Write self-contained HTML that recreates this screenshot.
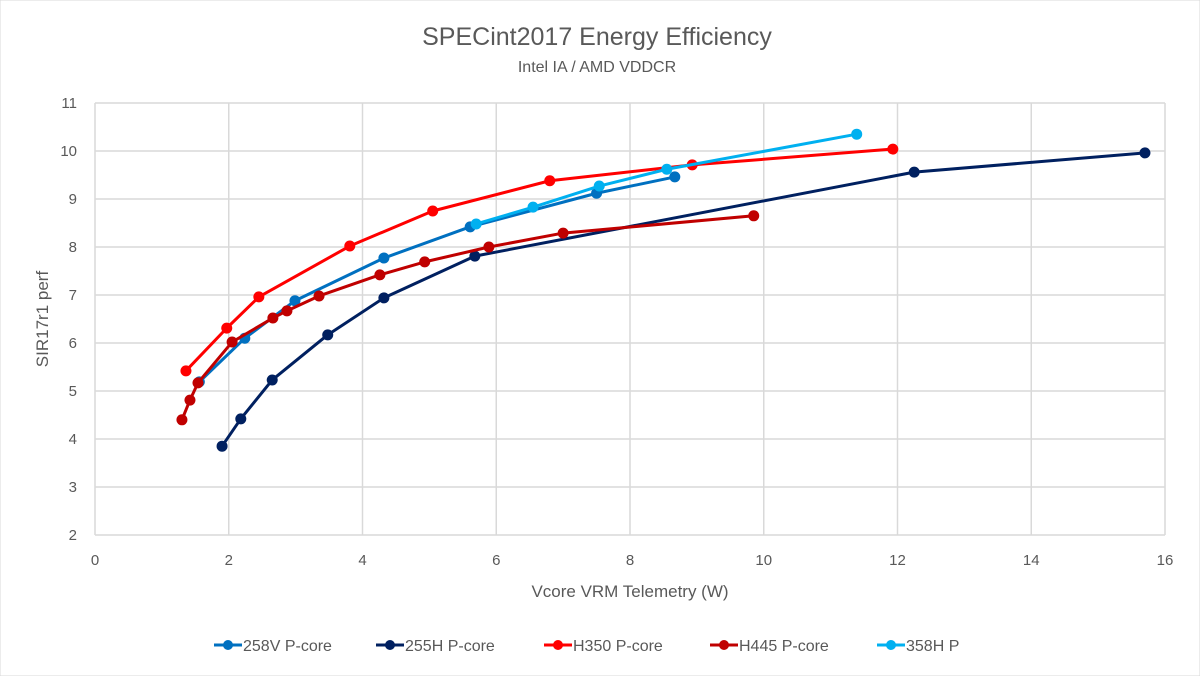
<!DOCTYPE html>
<html><head><meta charset="utf-8"><style>
body{margin:0;background:#fff}
svg{display:block;font-family:"Liberation Sans",sans-serif}
</style></head><body>
<svg id="chart" width="1200" height="676" viewBox="0 0 1200 676">
<rect x="0" y="0" width="1200" height="676" fill="#fff" stroke="#d9d9d9"/>
<text x="597" y="45" text-anchor="middle" font-size="25" fill="#595959">SPECint2017 Energy Efficiency</text>
<text x="597" y="72" text-anchor="middle" font-size="16" fill="#595959">Intel IA / AMD VDDCR</text>
<text transform="translate(48,319) rotate(-90)" text-anchor="middle" font-size="17" fill="#595959">SIR17r1 perf</text>
<text x="630" y="597" text-anchor="middle" font-size="17" fill="#595959">Vcore VRM Telemetry (W)</text>
<g id="grid"></g><g id="series"></g><g id="legend"></g>
</svg>
<script>
const xTicks=[0,2,4,6,8,10,12,14,16];
const yTicks=[2,3,4,5,6,7,8,9,10,11];
const seriesNames=["258V P-core","255H P-core","H350 P-core","H445 P-core","358H P"];
const seriesColors=["#0070C0","#002060","#FF0000","#C00000","#00B0F0"];
const s258vX=[1.56,2.24,2.99,4.32,5.61,7.5,8.67];
const s258vY=[5.19,6.10,6.88,7.77,8.42,9.12,9.46];
const s255hX=[1.90,2.18,2.65,3.48,4.32,5.68,12.25,15.70];
const s255hY=[3.85,4.42,5.23,6.17,6.94,7.81,9.56,9.96];
const h350X=[1.36,1.97,2.45,3.81,5.05,6.80,8.93,11.93];
const h350Y=[5.42,6.31,6.96,8.02,8.75,9.38,9.71,10.04];
const h445X=[1.30,1.42,1.54,2.05,2.66,2.87,3.35,4.26,4.93,5.89,7.0,9.85];
const h445Y=[4.40,4.81,5.17,6.02,6.52,6.67,6.98,7.42,7.69,8.0,8.29,8.65];
const s358hX=[5.70,6.55,7.54,8.55,11.39];
const s358hY=[8.48,8.83,9.27,9.62,10.35];
const NS="http://www.w3.org/2000/svg";
const X0=95,X1=1165,Y0=535,Y1=103;
const xs=v=>X0+(v-0)/(16-0)*(X1-X0);
const ys=v=>Y0-(v-2)/(11-2)*(Y0-Y1);
function mk(t,a,p){const e=document.createElementNS(NS,t);for(const k in a)e.setAttribute(k,a[k]);p.appendChild(e);return e;}
const grid=document.getElementById('grid');
xTicks.forEach(t=>{
 const l=mk('line',{x1:xs(t),x2:xs(t),y1:Y1,y2:Y0,stroke:'#d9d9d9','stroke-width':1.5},grid);
 
 
 const tx=mk('text',{x:xs(t),y:Y0+30,'text-anchor':'middle','font-size':15,fill:'#595959'},grid);
 tx.textContent=t;
 
 
});
yTicks.forEach(t=>{
 const l=mk('line',{x1:X0,x2:X1,y1:ys(t),y2:ys(t),stroke:'#d9d9d9','stroke-width':1.5},grid);
 
 
 const tx=mk('text',{x:X0-18,y:ys(t)+5,'text-anchor':'end','font-size':15,fill:'#595959'},grid);
 tx.textContent=t;
 
 
});
const data=[[s258vX,s258vY],[s255hX,s255hY],[h350X,h350Y],[h445X,h445Y],[s358hX,s358hY]];
const sg=document.getElementById('series');
data.forEach((d,i)=>{
 const g=mk('g',{},sg);
 
 
 const pts=d[0].map((x,j)=>xs(x)+','+ys(d[1][j])).join(' ');
 const pl=mk('polyline',{points:pts,fill:'none',stroke:seriesColors[i],'stroke-width':3,'stroke-linejoin':'round'},g);
 
 
 d[0].forEach((x,j)=>{
  const c=mk('circle',{cx:xs(x),cy:ys(d[1][j]),r:5.5,fill:seriesColors[i]},g);
  
  
 });
});
const lg=document.getElementById('legend');
const lx=[222,384,552,718,885];
seriesNames.forEach((n,i)=>{
 const g=mk('g',{},lg);
 
 
 mk('line',{x1:lx[i]-8,x2:lx[i]+20,y1:645,y2:645,stroke:seriesColors[i],'stroke-width':3},g);
 mk('circle',{cx:lx[i]+6,cy:645,r:5,fill:seriesColors[i]},g);
 const t=mk('text',{x:lx[i]+21,y:651,'font-size':16,fill:'#595959'},g);
 t.textContent=n;
});
</script>
</body></html>
